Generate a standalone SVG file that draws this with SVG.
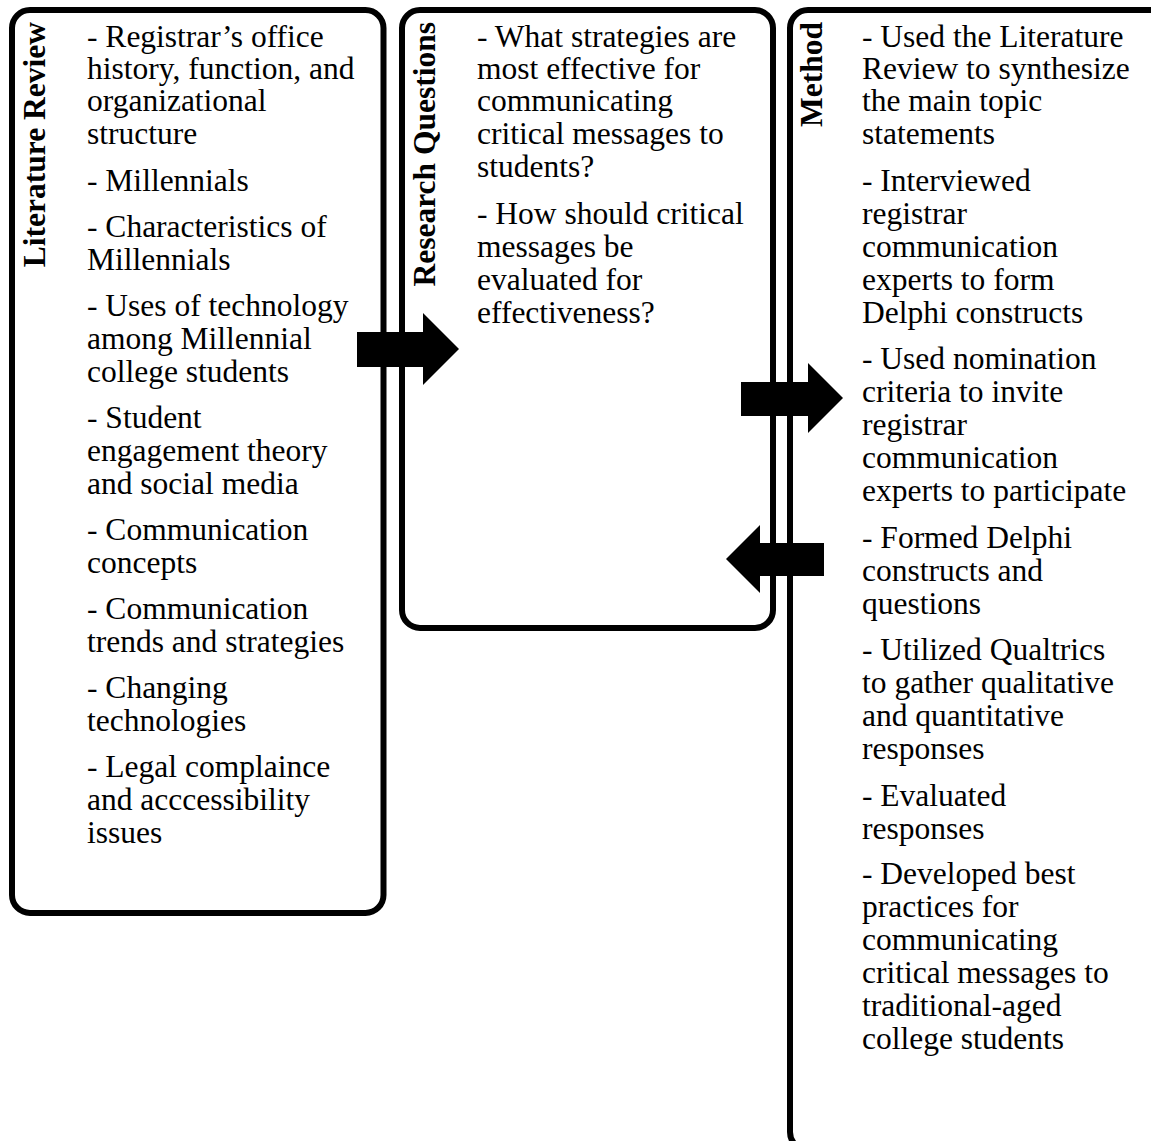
<svg xmlns="http://www.w3.org/2000/svg" width="1151" height="1141" viewBox="0 0 1151 1141">
<style>
.box{fill:#fff;stroke:#000;stroke-width:6}
.t{font-family:"Liberation Serif","Times New Roman",serif;font-size:31.5px;fill:#000}
.h{font-family:"Liberation Serif","Times New Roman",serif;font-size:31.5px;font-weight:bold;fill:#000;text-anchor:end}
.arr{fill:#000}
</style>
<rect x="0" y="0" width="1151" height="1141" fill="#fff"/>
<g id="literature-review">
<rect class="box" x="12" y="10" width="371.5" height="903" rx="18" ry="18"/>
<text class="h" transform="translate(45,22) rotate(-90)">Literature Review</text>
<text class="t">
<tspan x="87" y="46.5">- Registrar’s office</tspan>
<tspan x="87" y="78.5">history, function, and</tspan>
<tspan x="87" y="111">organizational</tspan>
<tspan x="87" y="144">structure</tspan>
<tspan x="87" y="190.5">- Millennials</tspan>
<tspan x="87" y="236.5">- Characteristics of</tspan>
<tspan x="87" y="269.5">Millennials</tspan>
<tspan x="87" y="315.5">- Uses of technology</tspan>
<tspan x="87" y="348.5">among Millennial</tspan>
<tspan x="87" y="381.5">college students</tspan>
<tspan x="87" y="427.5">- Student</tspan>
<tspan x="87" y="460.5">engagement theory</tspan>
<tspan x="87" y="493.5">and social media</tspan>
<tspan x="87" y="539.5">- Communication</tspan>
<tspan x="87" y="572.5">concepts</tspan>
<tspan x="87" y="618.5">- Communication</tspan>
<tspan x="87" y="651.5">trends and strategies</tspan>
<tspan x="87" y="697.5">- Changing</tspan>
<tspan x="87" y="730.5">technologies</tspan>
<tspan x="87" y="776.5">- Legal complaince</tspan>
<tspan x="87" y="809.5">and acccessibility</tspan>
<tspan x="87" y="842.5">issues</tspan>
</text>
</g>
<g id="research-questions">
<rect class="box" x="402" y="10" width="371" height="618" rx="18" ry="18"/>
<text class="h" transform="translate(435,22) rotate(-90)">Research Questions</text>
<text class="t">
<tspan x="477" y="46.5">- What strategies are</tspan>
<tspan x="477" y="78.5">most effective for</tspan>
<tspan x="477" y="111">communicating</tspan>
<tspan x="477" y="144">critical messages to</tspan>
<tspan x="477" y="177">students?</tspan>
<tspan x="477" y="223.5">- How should critical</tspan>
<tspan x="477" y="256.5">messages be</tspan>
<tspan x="477" y="289.5">evaluated for</tspan>
<tspan x="477" y="322.5">effectiveness?</tspan>
</text>
</g>
<g id="method">
<rect class="box" x="790" y="10" width="380" height="1140" rx="18" ry="18"/>
<text class="h" transform="translate(822,22) rotate(-90)">Method</text>
<text class="t">
<tspan x="862" y="46.5">- Used the Literature</tspan>
<tspan x="862" y="78.5">Review to synthesize</tspan>
<tspan x="862" y="111">the main topic</tspan>
<tspan x="862" y="144">statements</tspan>
<tspan x="862" y="190.5">- Interviewed</tspan>
<tspan x="862" y="223.5">registrar</tspan>
<tspan x="862" y="256.5">communication</tspan>
<tspan x="862" y="289.5">experts to form</tspan>
<tspan x="862" y="322.5">Delphi constructs</tspan>
<tspan x="862" y="369">- Used nomination</tspan>
<tspan x="862" y="402">criteria to invite</tspan>
<tspan x="862" y="435">registrar</tspan>
<tspan x="862" y="468">communication</tspan>
<tspan x="862" y="501">experts to participate</tspan>
<tspan x="862" y="547.5">- Formed Delphi</tspan>
<tspan x="862" y="580.5">constructs and</tspan>
<tspan x="862" y="613.5">questions</tspan>
<tspan x="862" y="660">- Utilized Qualtrics</tspan>
<tspan x="862" y="693">to gather qualitative</tspan>
<tspan x="862" y="726">and quantitative</tspan>
<tspan x="862" y="759">responses</tspan>
<tspan x="862" y="805.5">- Evaluated</tspan>
<tspan x="862" y="838.5">responses</tspan>
<tspan x="862" y="884">- Developed best</tspan>
<tspan x="862" y="917">practices for</tspan>
<tspan x="862" y="950">communicating</tspan>
<tspan x="862" y="983">critical messages to</tspan>
<tspan x="862" y="1016">traditional-aged</tspan>
<tspan x="862" y="1049">college students</tspan>
</text>
</g>
<g id="connectors">
<polygon class="arr" points="357,332 423,332 423,313 459,349 423,385 423,367 357,367"/>
<polygon class="arr" points="741,382 808,382 808,363 843,398 808,433 808,416 741,416"/>
<polygon class="arr" points="824,543 760,543 760,525 726,559 760,593 760,576 824,576"/>
</g>
</svg>
